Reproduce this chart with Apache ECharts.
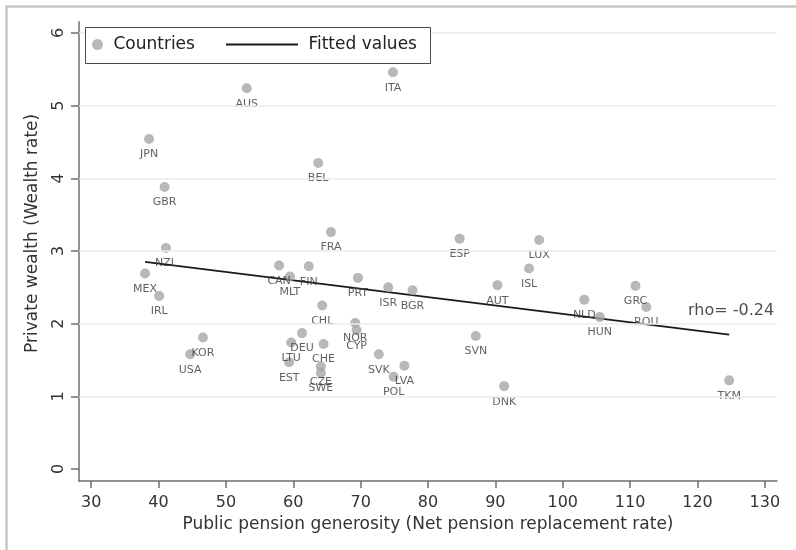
<!DOCTYPE html>
<html>
<head>
<meta charset="utf-8">
<script src="https://cdn.jsdelivr.net/npm/echarts@6/dist/echarts.min.js"></script>
<style>html,body{margin:0;padding:0;background:#fff}#c{width:796px;height:550px}</style>
</head>
<body>
<div id="c"></div>
<script>
// ---- data ----
const countries = ['AUS','ITA','JPN','GBR','BEL','FRA','NZL','MEX','IRL','CAN','MLT','FIN','PRT','ISR','BGR','CHL','NOR','CYP','DEU','LTU','CHE','EST','CZE','SWE','SVK','LVA','POL','KOR','USA','ESP','LUX','ISL','AUT','NLD','HUN','GRC','ROU','SVN','DNK','TKM'];
const pension = [53.1,74.8,38.6,40.9,63.7,65.6,41.1,38.0,40.1,57.9,59.5,62.3,69.6,74.1,77.7,64.3,69.2,69.4,61.3,59.7,64.5,59.4,64.1,64.1,72.7,76.5,74.9,46.6,44.7,84.7,96.5,95.0,90.3,103.2,105.5,110.8,112.4,87.1,91.3,124.7];
const wealth = [5.24,5.46,4.54,3.88,4.21,3.26,3.04,2.69,2.38,2.80,2.65,2.79,2.63,2.50,2.46,2.25,2.01,1.91,1.87,1.74,1.72,1.47,1.41,1.32,1.58,1.42,1.27,1.81,1.58,3.17,3.15,2.76,2.53,2.33,2.09,2.52,2.23,1.83,1.14,1.22];
const fitX = [38.0, 124.7];
const fitY = [2.85, 1.85];
const xTicks = [30,40,50,60,70,80,90,100,110,120,130];
const yTicks = [0,1,2,3,4,5,6];
const gridValues = [1,2,3,4,5,6];
const annotation = {x: 118.6, y: 2.17, text: 'rho= -0.24'};

const FONT = 'DejaVu Sans';
const chart = echarts.init(document.getElementById('c'), null, {renderer: 'canvas'});

const scatterData = countries.map((c, i) => ({name: c, value: [pension[i], wealth[i]]}));
const fitData = fitX.map((x, i) => [x, fitY[i]]);

chart.setOption({
  animation: false,
  backgroundColor: '#ffffff',
  textStyle: {fontFamily: FONT},
  grid: {left: 79, right: 19, top: 21.7, bottom: 69, containLabel: false},
  xAxis: {
    type: 'value', min: 28.2, max: 131.8,
    name: 'Public pension generosity (Net pension replacement rate)',
    nameLocation: 'middle', nameGap: 33,
    nameTextStyle: {fontSize: 17, color: '#333', fontFamily: FONT},
    axisLine: {show: true, onZero: false, lineStyle: {color: '#6e6e6e', width: 1.5}},
    axisTick: {show: true, length: 7, customValues: xTicks, lineStyle: {color: '#6e6e6e', width: 1.5}},
    axisLabel: {customValues: xTicks, fontSize: 16, color: '#333', margin: 14, fontFamily: FONT},
    splitLine: {show: false}
  },
  yAxis: {
    type: 'value', min: -0.165, max: 6.155,
    name: 'Private wealth (Wealth rate)',
    nameLocation: 'middle', nameGap: 38, nameRotate: 90,
    nameTextStyle: {fontSize: 17, color: '#333', fontFamily: FONT, padding: [0, 0, 0, 36]},
    axisLine: {show: true, onZero: false, lineStyle: {color: '#6e6e6e', width: 1.5}},
    axisTick: {show: true, length: 8, customValues: yTicks, lineStyle: {color: '#6e6e6e', width: 1.5}},
    axisLabel: {customValues: yTicks, rotate: 90, fontSize: 16, color: '#333', margin: 12, fontFamily: FONT},
    splitLine: {show: false}
  },
  legend: [
    {data: ['Countries'], left: 92, top: 36, itemWidth: 11, itemHeight: 11, padding: 0,
     formatter: n => ' ' + n, textStyle: {fontSize: 17, color: '#222', fontFamily: FONT}, selectedMode: false, z: 10},
    {data: [{name: 'Fitted values', icon: 'rect', itemStyle: {color: '#1a1a1a'}}], left: 226, top: 36,
     itemWidth: 72, itemHeight: 2, padding: 0,
     formatter: n => ' ' + n, textStyle: {fontSize: 17, color: '#222', fontFamily: FONT}, selectedMode: false, z: 10}
  ],
  graphic: [
    {type: 'rect', left: 4, top: 4, z: 0, silent: true,
     shape: {width: 1000, height: 1000}, style: {fill: 'none', stroke: '#c6c6c6', lineWidth: 2.5}},
    {type: 'rect', left: 85, top: 27, z: 9, silent: true,
     shape: {width: 345, height: 36}, style: {fill: '#fff', stroke: '#4a4a4a', lineWidth: 1}}
  ],
  series: [
    {
      name: 'grid', type: 'line', data: [], silent: true, z: 1,
      markLine: {silent: true, symbol: 'none', label: {show: false},
        lineStyle: {color: '#ebebeb', width: 1.5, type: 'solid'},
        data: gridValues.map(v => ({yAxis: v}))}
    },
    {
      name: 'Fitted values', type: 'line', data: fitData, symbol: 'none', showSymbol: false, z: 3,
      lineStyle: {color: '#1a1a1a', width: 1.7}, itemStyle: {color: '#1a1a1a'}
    },
    {
      name: 'Countries', type: 'scatter', data: scatterData, symbol: 'circle', symbolSize: 10, z: 4,
      itemStyle: {color: '#a6a6a6'},
      label: {show: true, position: 'bottom', distance: 5, formatter: p => p.name,
        fontSize: 11, color: '#383838', fontFamily: FONT}
    },
    {
      name: 'annot', type: 'scatter', data: [[annotation.x, annotation.y]], symbolSize: 0, silent: true, z: 5,
      label: {show: true, position: 'right', distance: 0, formatter: annotation.text,
        fontSize: 16, color: '#222', fontFamily: FONT}
    }
  ]
});
</script>
</body>
</html>
